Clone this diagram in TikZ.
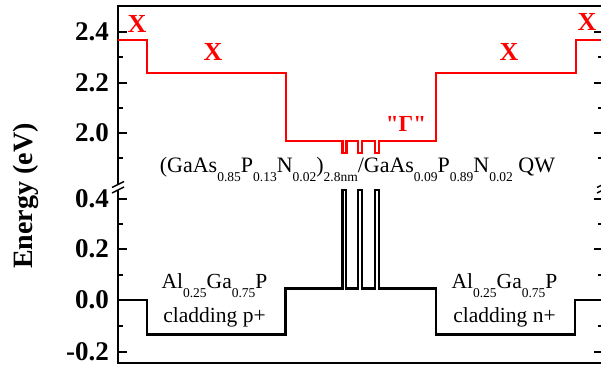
\documentclass[tikz,border=0pt]{standalone}
\usepackage{fontspec}
\setmainfont{Liberation Serif}
\newcommand{\sbs}[1]{\raisebox{-9.5pt}{\fontsize{13.5}{13.5}\selectfont #1}}

\begin{document}
\begin{tikzpicture}[x=1pt,y=-1pt,
    moldura/.style={line width=2pt},
    banda/.style={line width=2.2pt},
    rotulo/.style={font=\fontsize{27}{27}\selectfont\bfseries, anchor=east, inner sep=0pt},
    vale/.style={font=\fontsize{26}{26}\selectfont\bfseries, text=red, inner sep=0pt},
    texto/.style={font=\fontsize{21.5}{21.5}\selectfont, anchor=base, inner sep=0pt}]
    \useasboundingbox (0,0) rectangle (601,364);

    % Moldura com quebra
    \draw[moldura] (118,184) -- (118,6) -- (603,6) -- (603,184);
    \draw[moldura] (118,190) -- (118,362.5) -- (603,362.5) -- (603,190);
    \draw[line width=1.5pt] (112,187.5) -- (124,181.5) (112,193) -- (124,187);
    \draw[line width=1.5pt] (597,187.5) -- (609,181.5) (597,193) -- (609,187);

    % Marcas nos eixos
    \foreach \y in {32,82.5,133,198.5,249,300,351.5}
        \draw[moldura] (118,\y) -- (127,\y) (603,\y) -- (594,\y);
    \foreach \y in {57.2,107.8,158.2,223.7,274.5,325.7}
        \draw[moldura] (118,\y) -- (123,\y) (603,\y) -- (598,\y);
    \foreach \y/\lab [count=\i] in {32/2.4, 82.5/2.2, 133/2.0, 198.5/0.4, 249/0.2, 300/0.0, 351.5/-0.2}
        \node[rotulo] (r\i) at (109,\y) {\lab};

    % Titulo do eixo
    \node[rotate=90, font=\fontsize{28}{28}\selectfont\bfseries] (eixo) at (25.5,196) {Energy (eV)};

    % Banda de conducao
    \draw[banda, red] (118,40) -| (147,73) -| (286,141)
        -| (342.5,153) -| (346.5,141) -| (358.3,153) -| (362.3,141)
        -| (375,153) -| (379,141) -| (436,73) -| (576,40) -- (603,40);

    % Banda de valencia
    \draw[banda] (118,300) -| (147,334.5) -| (285.5,288.5)
        -| (342.5,190) -| (346.2,288.5) -| (358.2,190) -| (361.8,288.5)
        -| (375,190) -| (378.6,288.5) -| (436,334.5) -| (575,300) -- (603,300);

    % Vales
    \node[vale] (x1) at (137,24) {X};
    \node[vale] (x2) at (213,52) {X};
    \node[vale] (x3) at (509,52) {X};
    \node[vale] (x4) at (587,22) {X};
    \node[font=\fontsize{23}{23}\selectfont\bfseries, text=red, inner sep=0pt] (gama) at (406,124)
        {\textquotedbl Γ\textquotedbl};

    % Estrutura
    \node[texto, font=\fontsize{22}{22}\selectfont] (qw) at (357.5,172)
        {(GaAs\sbs{0.85}P\sbs{0.13}N\sbs{0.02})\sbs{2.8nm}/GaAs\sbs{0.09}P\sbs{0.89}N\sbs{0.02} QW};
    \node[texto] (clp) at (214.5,288) {Al\sbs{0.25}Ga\sbs{0.75}P};
    \node[texto] (clpb) at (214.5,322) {cladding p+};
    \node[texto] (cln) at (504.5,288) {Al\sbs{0.25}Ga\sbs{0.75}P};
    \node[texto] (clnb) at (504.5,322) {cladding n+};
\end{tikzpicture}
\end{document}
